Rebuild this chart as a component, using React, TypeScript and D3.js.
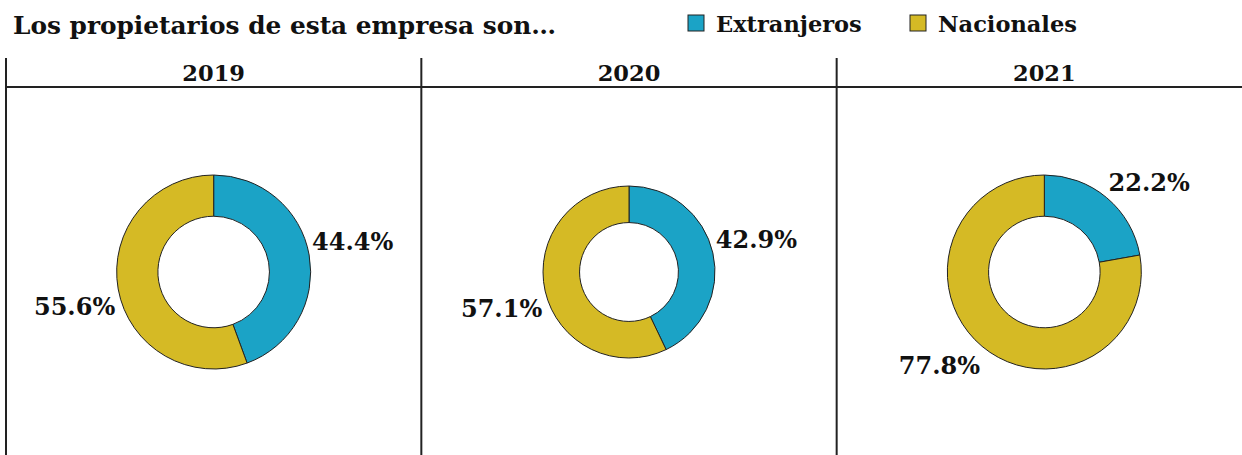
import React from "react";
import * as d3 from "d3";

const width = 1242;
const height = 455;
const font = "'DejaVu Serif', serif";

// data
const years = ["2019", "2020", "2021"];
const series = ["Extranjeros", "Nacionales"];
const extranjeros = [44.4, 42.9, 22.2];
const nacionales = [55.6, 57.1, 77.8];

const colors = ["#1ba3c6", "#d5ba25"];
// excel shrinks the middle donut a bit because of its labels
const outerRadius = [97, 86, 97];
const holeRatio = 0.575;

const panelTop = 58;
const headerLine = 87;
const centerY = 272;

export default function App() {
  const x = d3.scaleBand().domain(years).range([6, 1252]);

  const pie = d3
    .pie<number>()
    .sort(null)
    .value(d => d);

  const legendX = [688, 910];
  const legendTextX = [716, 938];

  return (
    <svg
      width={width}
      height={height}
      style={{ position: "absolute", left: 0, top: 0, background: "#fff" }}
      fontFamily={font}
      fontWeight="bold"
    >
      <text x={13} y={34} fontSize={24.8} fill="#111">
        Los propietarios de esta empresa son…
      </text>

      {series.map((s, i) => (
        <g key={s}>
          <rect
            x={legendX[i]}
            y={15}
            width={16}
            height={16}
            fill={colors[i]}
            stroke="#222"
            strokeWidth={1}
          />
          <text x={legendTextX[i]} y={32} fontSize={22.5} fill="#111">
            {s}
          </text>
        </g>
      ))}

      <line x1={6} x2={width} y1={headerLine} y2={headerLine} stroke="#222" strokeWidth={2} />
      {years.map(y => (
        <line
          key={"v" + y}
          x1={x(y)}
          x2={x(y)}
          y1={panelTop}
          y2={height}
          stroke="#222"
          strokeWidth={2}
        />
      ))}

      {years.map((y, i) => {
        const cx = x(y)! + x.bandwidth() / 2;
        const r = outerRadius[i];
        const arc = d3
          .arc<d3.PieArcDatum<number>>()
          .innerRadius(r * holeRatio)
          .outerRadius(r);
        const arcs = pie([extranjeros[i], nacionales[i]]);
        return (
          <g key={y}>
            <text x={cx} y={81} textAnchor="middle" fontSize={22.5} fill="#111">
              {y}
            </text>
            <g transform={`translate(${cx},${centerY})`}>
              {arcs.map((a, j) => (
                <path
                  key={j}
                  d={arc(a)!}
                  fill={colors[j]}
                  stroke="#222"
                  strokeWidth={1}
                />
              ))}
              {arcs.map((a, j) => {
                const mid = (a.startAngle + a.endAngle) / 2;
                const lr = r + 3;
                const px = lr * Math.sin(mid);
                const py = -lr * Math.cos(mid);
                const up = Math.cos(mid) > 0;
                return (
                  <text
                    key={"l" + j}
                    x={px}
                    y={py + (up ? -13 : 17)}
                    textAnchor={Math.sin(mid) > 0 ? "start" : "end"}
                    dominantBaseline="central"
                    fontSize={24}
                    fill="#111"
                  >
                    {d3.format(".1f")(a.data)}%
                  </text>
                );
              })}
            </g>
          </g>
        );
      })}
    </svg>
  );
}
